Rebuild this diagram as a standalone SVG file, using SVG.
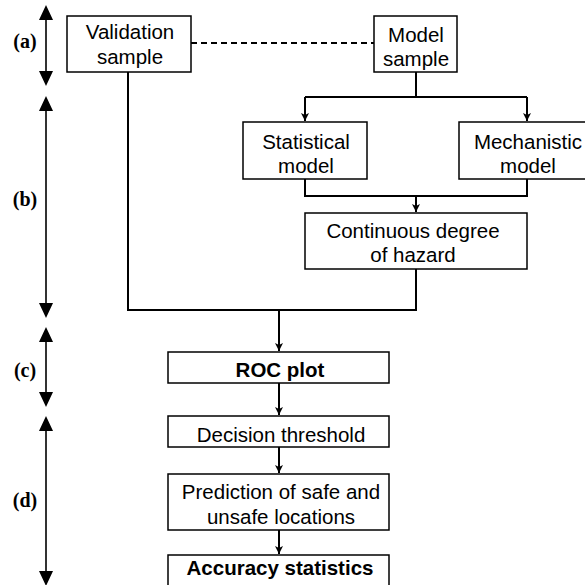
<svg xmlns="http://www.w3.org/2000/svg" width="585" height="585" viewBox="0 0 585 585">
<style>
.box{fill:#fff;stroke:#000;stroke-width:1.5}
.t{font-family:"Liberation Sans",Arial,sans-serif;font-size:20.5px;text-anchor:middle;fill:#000}
.b{font-weight:bold}
.lab{font-family:"Liberation Serif","Times New Roman",serif;font-size:20px;font-weight:bold;text-anchor:middle;fill:#000}
.c{fill:none;stroke:#000;stroke-width:2}
.ax{stroke:#333;stroke-width:2}
.ah{fill:#000}
</style>
<defs>
<marker id="arr" markerUnits="userSpaceOnUse" markerWidth="10" markerHeight="10" refX="8" refY="4" orient="auto">
<path d="M0,0 L8,4 L0,8 L2,4 z" fill="#000"/>
</marker>
</defs>
<rect width="585" height="585" fill="#fff"/>
<g id="scale">
<g id="scale-a"><line class="ax" x1="46" y1="18" x2="46" y2="73"/><polygon class="ah" points="46,5 39,20 53,20"/><polygon class="ah" points="46,86 39,71 53,71"/><text class="lab" x="25" y="48">(a)</text></g>
<g id="scale-b"><line class="ax" x1="46" y1="108" x2="46" y2="306"/><polygon class="ah" points="46,96 39,111 53,111"/><polygon class="ah" points="46,318 39,303 53,303"/><text class="lab" x="25" y="206">(b)</text></g>
<g id="scale-c"><line class="ax" x1="46" y1="340" x2="46" y2="395"/><polygon class="ah" points="46,327 39,342 53,342"/><polygon class="ah" points="46,407 39,392 53,392"/><text class="lab" x="25" y="377">(c)</text></g>
<g id="scale-d"><line class="ax" x1="46" y1="428" x2="46" y2="575"/><polygon class="ah" points="46,416 39,431 53,431"/><polygon class="ah" points="46,586 39,571 53,571"/><text class="lab" x="25" y="507">(d)</text></g>
</g>
<g id="connectors">
<line x1="191" y1="43" x2="374" y2="43" stroke="#000" stroke-width="1.8" stroke-dasharray="6,4"/>
<path class="c" d="M416 72 V97 M305 97 H527"/>
<path class="c" d="M305 97 V121" marker-end="url(#arr)"/>
<path class="c" d="M527 97 V121" marker-end="url(#arr)"/>
<path class="c" d="M305 179 V196 H527 V179"/>
<path class="c" d="M416 196 V212" marker-end="url(#arr)"/>
<path class="c" d="M416 269 V310 H128 V72"/>
<path class="c" d="M279 310 V351" marker-end="url(#arr)"/>
<path class="c" d="M279 383 V415" marker-end="url(#arr)"/>
<path class="c" d="M279 447 V473" marker-end="url(#arr)"/>
<path class="c" d="M279 530 V554" marker-end="url(#arr)"/>
</g>
<g id="validation"><rect class="box" x="67" y="16" width="124" height="56"/><text class="t" x="130" y="39">Validation</text><text class="t" x="130" y="64">sample</text></g>
<g id="model"><rect class="box" x="374" y="16" width="83" height="56"/><text class="t" x="416" y="42">Model</text><text class="t" x="416" y="66">sample</text></g>
<g id="statistical"><rect class="box" x="243" y="122" width="124" height="57"/><text class="t" x="306" y="149">Statistical</text><text class="t" x="306" y="173">model</text></g>
<g id="mechanistic"><rect class="box" x="459" y="122" width="138" height="57"/><text class="t" x="528" y="149">Mechanistic</text><text class="t" x="528" y="173">model</text></g>
<g id="hazard"><rect class="box" x="305" y="213" width="222" height="56"/><text class="t" x="413" y="238">Continuous degree</text><text class="t" x="413" y="262">of hazard</text></g>
<g id="roc"><rect class="box" x="168" y="352" width="221" height="31"/><text class="t b" x="280" y="377">ROC plot</text></g>
<g id="threshold"><rect class="box" x="168" y="416" width="221" height="31"/><text class="t" x="281" y="442">Decision threshold</text></g>
<g id="prediction"><rect class="box" x="168" y="474" width="221" height="56"/><text class="t" x="281" y="499">Prediction of safe and</text><text class="t" x="281" y="524">unsafe locations</text></g>
<g id="accuracy"><rect class="box" x="168" y="555" width="221" height="40"/><text class="t b" x="280" y="575">Accuracy statistics</text></g>
</svg>
